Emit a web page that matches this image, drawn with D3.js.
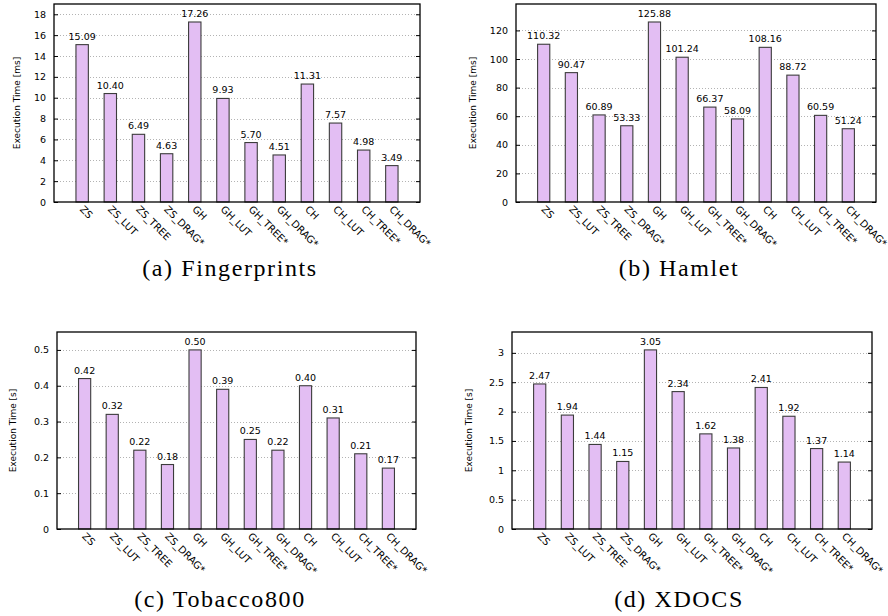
<!DOCTYPE html>
<html>
<head>
<meta charset="utf-8">
<script src="https://cdn.jsdelivr.net/npm/d3@7"></script>
<style>
body { margin: 0; background: #fff; }
svg { display: block; }
text { font-family: "DejaVu Sans", sans-serif; }
text.caption { font-family: "Liberation Serif", serif; }
</style>
</head>
<body>
<script>
var categories = ["ZS", "ZS_LUT", "ZS_TREE", "ZS_DRAG*", "GH", "GH_LUT", "GH_TREE*", "GH_DRAG*", "CH", "CH_LUT", "CH_TREE*", "CH_DRAG*"];

var fingerprints = [15.09, 10.40, 6.49, 4.63, 17.26, 9.93, 5.70, 4.51, 11.31, 7.57, 4.98, 3.49];
var hamlet = [110.32, 90.47, 60.89, 53.33, 125.88, 101.24, 66.37, 58.09, 108.16, 88.72, 60.59, 51.24];
var tobacco = [0.42, 0.32, 0.22, 0.18, 0.50, 0.39, 0.25, 0.22, 0.40, 0.31, 0.21, 0.17];
var xdocs = [2.47, 1.94, 1.44, 1.15, 3.05, 2.34, 1.62, 1.38, 2.41, 1.92, 1.37, 1.14];

var ticksA = [0, 2, 4, 6, 8, 10, 12, 14, 16, 18];
var ticksB = [0, 20, 40, 60, 80, 100, 120];
var ticksC = [0, 0.1, 0.2, 0.3, 0.4, 0.5];
var ticksD = [0, 0.5, 1, 1.5, 2, 2.5, 3];

var panels = [
    {values: fingerprints, ticks: ticksA, unit: "ms", caption: "(a) Fingerprints",
     left: 54, right: 420, top: 4, bottom: 202, titleX: 17, capX: 230, capY: 276},
    {values: hamlet, ticks: ticksB, unit: "ms", caption: "(b) Hamlet",
     left: 516, right: 876, top: 4, bottom: 202, titleX: 473, capX: 679, capY: 276},
    {values: tobacco, ticks: ticksC, unit: "s", caption: "(c) Tobacco800",
     left: 57, right: 416, top: 332, bottom: 529, titleX: 13, capX: 220, capY: 607},
    {values: xdocs, ticks: ticksD, unit: "s", caption: "(d) XDOCS",
     left: 512, right: 872, top: 332, bottom: 529, titleX: 469, capX: 679, capY: 607}
];

var svg = d3.select("body").append("svg").attr("width", 888).attr("height", 616);

panels.forEach(function (p) {
    var g = svg.append("g");
    var x = d3.scaleLinear().domain([-1, categories.length]).range([p.left, p.right]);
    var y = d3.scaleLinear().domain([0, d3.max(p.values) * 1.1]).range([p.bottom, p.top]);
    var barW = (x(1) - x(0)) * 0.44;

    // grid
    g.selectAll(".grid").data(p.ticks.filter(function (t) { return t > 0; })).enter()
        .append("line")
        .attr("x1", p.left).attr("x2", p.right)
        .attr("y1", function (d) { return Math.round(y(d)) + 0.5; })
        .attr("y2", function (d) { return Math.round(y(d)) + 0.5; })
        .attr("stroke", "#a0a0a0").attr("stroke-width", 0.8)
        .attr("stroke-dasharray", "1,2");

    // y axis on left, ticks inward; mirror on right
    var yAxis = d3.axisLeft(y).tickValues(p.ticks).tickSizeInner(-4).tickSizeOuter(0).tickPadding(8)
        .tickFormat(d3.format("~g"));
    var ga = g.append("g").attr("transform", "translate(" + p.left + ",0)").call(yAxis);
    ga.select(".domain").remove();
    ga.selectAll("text").attr("font-size", 9.5).attr("fill", "#000");
    ga.selectAll("line").attr("stroke", "#000");

    var yAxisR = d3.axisRight(y).tickValues(p.ticks).tickSizeInner(-4).tickSizeOuter(0).tickFormat("");
    var gr = g.append("g").attr("transform", "translate(" + p.right + ",0)").call(yAxisR);
    gr.select(".domain").remove();
    gr.selectAll("line").attr("stroke", "#000");

    // bars
    g.selectAll(".bar").data(p.values).enter()
        .append("rect")
        .attr("x", function (d, i) { return x(i) - barW / 2; })
        .attr("y", function (d) { return y(d); })
        .attr("width", barW)
        .attr("height", function (d) { return p.bottom - y(d); })
        .attr("fill", "#e3bef3")
        .attr("stroke", "#3c3c3c")
        .attr("stroke-width", 1.1);

    // value labels
    g.selectAll(".val").data(p.values).enter()
        .append("text")
        .attr("x", function (d, i) { return x(i); })
        .attr("y", function (d) { return y(d) - 5; })
        .attr("text-anchor", "middle")
        .attr("font-size", 9.5)
        .text(function (d) { return d.toFixed(2); });

    // frame
    g.append("rect")
        .attr("x", p.left).attr("y", p.top)
        .attr("width", p.right - p.left).attr("height", p.bottom - p.top)
        .attr("fill", "none").attr("stroke", "#000").attr("stroke-width", 1.3);

    // x labels
    g.selectAll(".xl").data(categories).enter()
        .append("text")
        .attr("transform", function (d, i) {
            return "translate(" + (x(i) - 3) + "," + (p.bottom + 8) + ") rotate(45)";
        })
        .attr("font-size", 10)
        .text(function (d) { return d; });

    // y title
    g.append("text")
        .attr("transform", "translate(" + p.titleX + "," + ((p.top + p.bottom) / 2) + ") rotate(-90)")
        .attr("text-anchor", "middle")
        .attr("dy", "0.35em")
        .attr("font-size", 9)
        .text("Execution Time [" + p.unit + "]");

    // caption
    g.append("text")
        .attr("class", "caption")
        .attr("x", p.capX).attr("y", p.capY)
        .attr("text-anchor", "middle")
        .attr("font-size", 24)
        .attr("letter-spacing", 1.6)
        .text(p.caption);
});
</script>
</body>
</html>
